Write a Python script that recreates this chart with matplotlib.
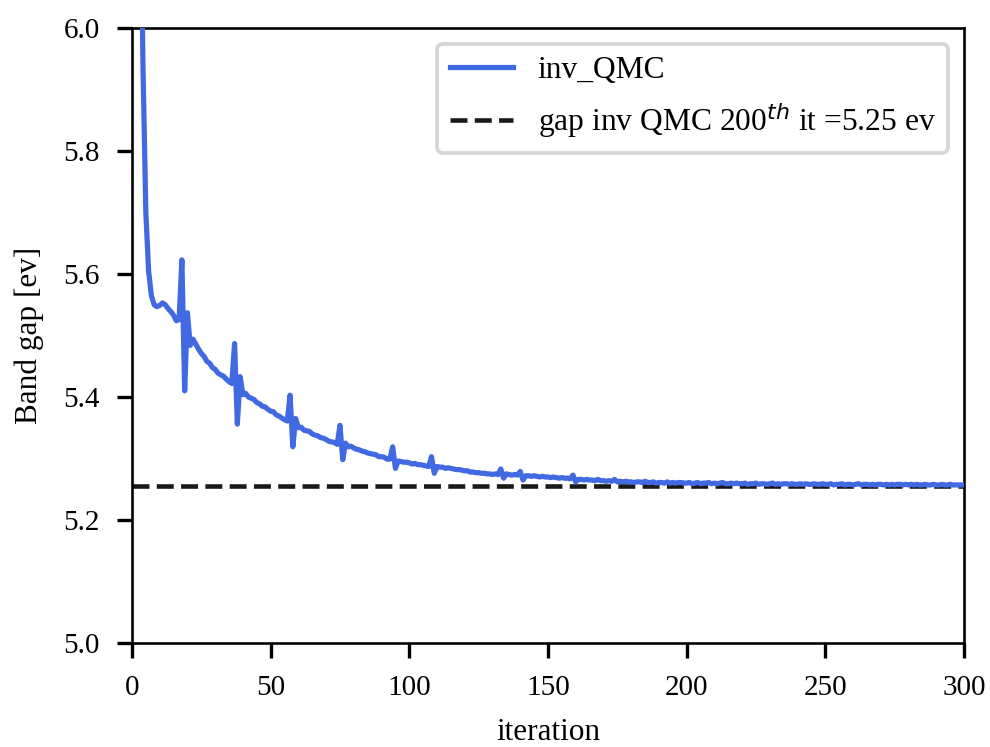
import numpy as np
import matplotlib.pyplot as plt

plt.rcParams['font.family'] = ['Liberation Serif', 'DejaVu Serif']
plt.rcParams['mathtext.fontset'] = 'dejavusans'
plt.rcParams['font.size'] = 14

# band gap of the inverse QMC run, one value per iteration (0..300)
gap_inv_qmc = [
    7.40, 6.90, 6.55, 6.25, 5.93, 5.70, 5.605, 5.565, 5.550, 5.547,
    5.549, 5.553, 5.550, 5.544, 5.539, 5.533, 5.524, 5.526, 5.623, 5.410,
    5.537, 5.484, 5.494, 5.486, 5.478, 5.471, 5.466, 5.458, 5.455, 5.448,
    5.445, 5.439, 5.436, 5.434, 5.429, 5.425, 5.422, 5.487, 5.356, 5.433,
    5.404, 5.406, 5.400, 5.398, 5.396, 5.391, 5.389, 5.385, 5.384, 5.380,
    5.377, 5.376, 5.371, 5.369, 5.366, 5.363, 5.361, 5.403, 5.319, 5.365,
    5.350, 5.351, 5.346, 5.345, 5.344, 5.340, 5.338, 5.337, 5.334, 5.333,
    5.331, 5.328, 5.327, 5.326, 5.323, 5.354, 5.298, 5.325, 5.319, 5.320,
    5.317, 5.315, 5.314, 5.312, 5.311, 5.309, 5.308, 5.307, 5.306, 5.303,
    5.303, 5.302, 5.299, 5.299, 5.319, 5.284, 5.296, 5.295, 5.294, 5.294,
    5.293, 5.291, 5.292, 5.290, 5.290, 5.289, 5.288, 5.287, 5.303, 5.276,
    5.287, 5.286, 5.286, 5.284, 5.285, 5.284, 5.283, 5.282, 5.282, 5.281,
    5.280, 5.280, 5.278, 5.278, 5.277, 5.277, 5.276, 5.276, 5.275, 5.275,
    5.274, 5.275, 5.274, 5.283, 5.268, 5.275, 5.274, 5.273, 5.274, 5.273,
    5.279, 5.265, 5.272, 5.272, 5.271, 5.272, 5.271, 5.270, 5.271, 5.270,
    5.270, 5.269, 5.270, 5.269, 5.268, 5.269, 5.268, 5.268, 5.267, 5.273,
    5.262, 5.266, 5.266, 5.265, 5.266, 5.265, 5.265, 5.264, 5.266, 5.264,
    5.264, 5.263, 5.264, 5.263, 5.266, 5.262, 5.263, 5.262, 5.263, 5.262,
    5.262, 5.261, 5.262, 5.262, 5.261, 5.263, 5.261, 5.261, 5.262, 5.260,
    5.261, 5.261, 5.260, 5.262, 5.260, 5.261, 5.260, 5.261, 5.261, 5.260,
    5.260, 5.261, 5.259, 5.260, 5.261, 5.259, 5.260, 5.260, 5.261, 5.259,
    5.260, 5.259, 5.260, 5.261, 5.259, 5.259, 5.260, 5.259, 5.260, 5.259,
    5.259, 5.260, 5.258, 5.259, 5.259, 5.260, 5.258, 5.259, 5.259, 5.258,
    5.259, 5.260, 5.258, 5.259, 5.258, 5.259, 5.259, 5.258, 5.259, 5.258,
    5.258, 5.259, 5.258, 5.259, 5.258, 5.258, 5.259, 5.258, 5.258, 5.259,
    5.258, 5.258, 5.259, 5.257, 5.258, 5.258, 5.259, 5.257, 5.258, 5.258,
    5.257, 5.258, 5.259, 5.257, 5.258, 5.258, 5.257, 5.258, 5.257, 5.258,
    5.258, 5.257, 5.258, 5.257, 5.258, 5.257, 5.258, 5.258, 5.257, 5.258,
    5.257, 5.258, 5.257, 5.258, 5.257, 5.257, 5.258, 5.257, 5.257, 5.258,
    5.257, 5.257, 5.258, 5.257, 5.257, 5.258, 5.257, 5.257, 5.257, 5.257,
    5.257,
]
gap_200th = 5.2555   # reference value taken at iteration 200

iterations = np.arange(len(gap_inv_qmc))

fig = plt.figure(figsize=(6.6, 4.98), dpi=150)
ax = fig.add_axes([0.1333, 0.1392, 0.8404, 0.8233])

ax.plot(iterations, gap_inv_qmc, '-', color='royalblue', lw=2.5, label='inv_QMC', zorder=3)
ax.axhline(gap_200th, color='k', ls='--', lw=2.2, alpha=0.9,
           label=r'gap inv QMC 200$^{th}$ it =5.25 ev', zorder=2)

ax.set_xlim(0, 300)
ax.set_ylim(5.0, 6.0)
ax.set_xticks([0, 50, 100, 150, 200, 250, 300])
ax.set_yticks([5.0, 5.2, 5.4, 5.6, 5.8, 6.0])
ax.set_xlabel('iteration', fontsize=15, labelpad=8)
ax.set_ylabel('Band gap [ev]', fontsize=15, labelpad=9)

for s in ax.spines.values():
    s.set_linewidth(1.25)
ax.tick_params(length=7, width=1.6, pad=8.5)

leg = ax.legend(loc='upper right', fontsize=15.1, handlelength=2.0)
leg.get_frame().set_linewidth(1.8)

fig.savefig('out.png', dpi=150)
